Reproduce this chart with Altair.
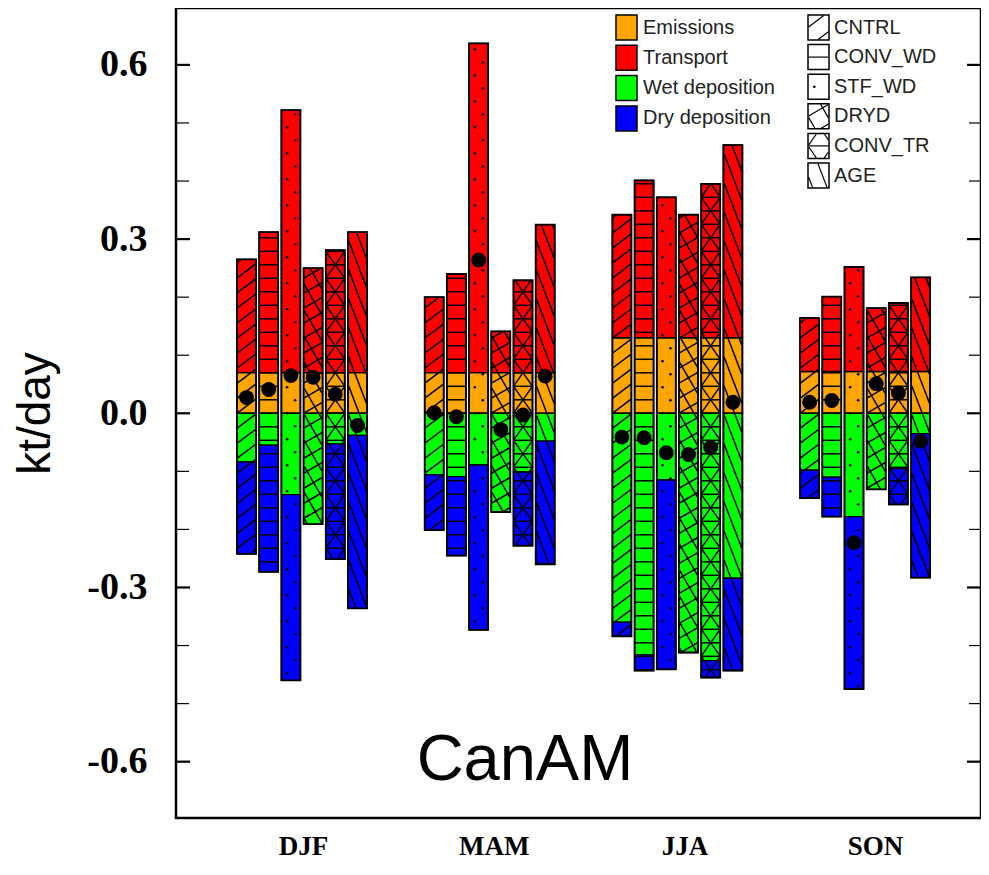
import math
import altair as alt
import pandas as pd

# ---------------- data ----------------
seasons = ["DJF", "MAM", "JJA", "SON"]
experiments = ["CNTRL", "CONV_WD", "STF_WD", "DRYD", "CONV_TR", "AGE"]
components = ["Emissions", "Transport", "Wet deposition", "Dry deposition"]
comp_colors = ["#FFA500", "#FF0000", "#00FF00", "#0000FF"]

emissions = [0.070, 0.070, 0.130, 0.072]

transport_djf = [0.195, 0.242, 0.452, 0.180, 0.211, 0.242]
transport_mam = [0.130, 0.170, 0.567, 0.071, 0.159, 0.255]
transport_jja = [0.212, 0.271, 0.242, 0.212, 0.265, 0.332]
transport_son = [0.092, 0.129, 0.180, 0.109, 0.118, 0.162]

wet_djf = [-0.084, -0.055, -0.140, -0.191, -0.053, -0.038]
wet_mam = [-0.106, -0.109, -0.089, -0.170, -0.101, -0.048]
wet_jja = [-0.360, -0.416, -0.115, -0.412, -0.426, -0.284]
wet_son = [-0.098, -0.110, -0.178, -0.131, -0.095, -0.035]

dry_djf = [-0.158, -0.218, -0.320, 0.0, -0.198, -0.298]
dry_mam = [-0.095, -0.136, -0.284, 0.0, -0.127, -0.212]
dry_jja = [-0.024, -0.027, -0.326, 0.0, -0.029, -0.159]
dry_son = [-0.048, -0.068, -0.297, 0.0, -0.062, -0.248]

net_djf = [0.027, 0.041, 0.065, 0.062, 0.033, -0.021]
net_mam = [0.001, -0.006, 0.264, -0.028, -0.003, 0.064]
net_jja = [-0.041, -0.042, -0.068, -0.071, -0.059, 0.019]
net_son = [0.019, 0.022, -0.223, 0.051, 0.035, -0.048]

y_major = [-0.6, -0.3, 0.0, 0.3, 0.6]
y_minor = [-0.5, -0.4, -0.2, -0.1, 0.1, 0.2, 0.4, 0.5]
panel_label = "CanAM"
y_title = "kt/day"

transport = [transport_djf, transport_mam, transport_jja, transport_son]
wet = [wet_djf, wet_mam, wet_jja, wet_son]
dry = [dry_djf, dry_mam, dry_jja, dry_son]
net = [net_djf, net_mam, net_jja, net_son]

# ---------------- layout ----------------
W, H = 805, 810
YMIN, YMAX = -0.697, 0.698
GROUP0, GROUP_GAP = 126.0, 187.7
PITCH, BAR_W = 22.2, 19.0
LABEL0, LABEL_GAP = 127.0, 190.7


def ypix(v):
    return (YMAX - v) / (YMAX - YMIN) * H


def yval(p):
    return YMAX - p * (YMAX - YMIN) / H


DIAG = math.degrees(math.atan(27.0 / BAR_W))
DIAG_P = 27.0 * math.cos(math.radians(DIAG))
PATTERNS = {
    "CNTRL": [(37, 12.0)],
    "CONV_WD": [(0, 13.5)],
    "STF_WD": [],
    "DRYD": [(30, 13.0), (-60, 13.0)],
    "CONV_TR": [(0, 13.5), (DIAG, DIAG_P), (-DIAG, DIAG_P)],
    "AGE": [(-69, 10.4)],
}


def clip(px, py, dx, dy, x0, x1, y0, y1):
    t0, t1 = -1e9, 1e9
    for p, q in ((-dx, px - x0), (dx, x1 - px), (-dy, py - y0), (dy, y1 - py)):
        if abs(p) < 1e-12:
            if q < 0:
                return None
        else:
            r = q / p
            if p < 0:
                t0 = max(t0, r)
            else:
                t1 = min(t1, r)
    if t1 - t0 < 1.0:
        return None
    return (px + t0 * dx, py + t0 * dy, px + t1 * dx, py + t1 * dy)


def add_pattern(exp, x0, x1, ptop, pbot, oy, lines, dots, scale=1.0, inset=0.6):
    rx0, rx1, ry0, ry1 = x0 + inset, x1 - inset, ptop + inset, pbot - inset
    for ang, sp in PATTERNS[exp]:
        sp = sp * scale
        a = math.radians(ang)
        dx, dy = math.cos(a), -math.sin(a)
        nx, ny = math.sin(a), math.cos(a)
        cs = [nx * (cx - x0) + ny * (cy - oy) for cx in (rx0, rx1) for cy in (ry0, ry1)]
        for k in range(math.ceil(min(cs) / sp), math.floor(max(cs) / sp) + 1):
            px = x0 + k * sp * nx
            py = oy + k * sp * ny
            seg = clip(px, py, dx, dy, rx0, rx1, ry0, ry1)
            if seg:
                lines.append(dict(x=seg[0], x2=seg[2], y=yval(seg[1]), y2=yval(seg[3])))
    if exp == "STF_WD":
        step = 13.0 * scale
        r0 = math.ceil((ry0 + 2 - oy) / step)
        r1 = math.floor((ry1 - 2 - oy) / step)
        for r in range(r0, r1 + 1):
            fx = 0.3 if r % 2 == 0 else 0.72
            dots.append(dict(x=x0 + fx * (x1 - x0), y=yval(oy + r * step)))


seg_rows, hatch_rows, sdot_rows, outline_rows, net_rows = [], [], [], [], []
for si, s in enumerate(seasons):
    gc = GROUP0 + si * GROUP_GAP
    E = emissions[si]
    for ei, e in enumerate(experiments):
        T, Wt, D, N = transport[si][ei], wet[si][ei], dry[si][ei], net[si][ei]
        x0 = gc + (ei - 2.5) * PITCH - BAR_W / 2
        x1 = x0 + BAR_W
        segs = [("Emissions", 0.0, E), ("Transport", E, E + T),
                ("Wet deposition", Wt, 0.0), ("Dry deposition", Wt + D, Wt)]
        for comp, lo, hi in segs:
            if hi - lo > 1e-9:
                seg_rows.append(dict(x=x0, x2=x1, y=lo, y2=hi, comp=comp))
        top, bot = E + T, Wt + D
        outline_rows.append(dict(x=x0, x2=x1, y=bot, y2=top))
        add_pattern(e, x0, x1, ypix(top), ypix(bot), ypix(0.0), hatch_rows, sdot_rows)
        net_rows.append(dict(x=(x0 + x1) / 2, y=N))

# legends
CL_X0, CL_X1, CL_TOP, CL_STEP, BOX_H = 440.0, 461.0, 7.0, 30.3, 25.0
PL_X0, PL_X1, PL_TOP, PL_STEP = 632.0, 653.0, 7.0, 29.6
cleg_rows, cleg_text, pleg_rows, pleg_text, pleg_lines, pleg_dots = [], [], [], [], [], []
for i, c in enumerate(components):
    t = CL_TOP + i * CL_STEP
    cleg_rows.append(dict(x=CL_X0, x2=CL_X1, y=yval(t + BOX_H), y2=yval(t), comp=c))
    cleg_text.append(dict(x=CL_X1 + 6, y=yval(t + BOX_H / 2), label=c))
for i, e in enumerate(experiments):
    t = PL_TOP + i * PL_STEP
    pleg_rows.append(dict(x=PL_X0, x2=PL_X1, y=yval(t + BOX_H), y2=yval(t)))
    pleg_text.append(dict(x=PL_X1 + 5, y=yval(t + BOX_H / 2), label=e))
    add_pattern(e, PL_X0, PL_X1, t, t + BOX_H, t + BOX_H / 2, pleg_lines, pleg_dots, scale=1.3)

tick_rows = []
for v in y_major:
    tick_rows.append(dict(x=0.0, x2=14.0, y=v, w=2.2))
    tick_rows.append(dict(x=W - 14.0, x2=float(W), y=v, w=2.2))
for v in y_minor:
    tick_rows.append(dict(x=0.0, x2=13.0, y=v, w=1.2))
    tick_rows.append(dict(x=W - 12.0, x2=float(W), y=v, w=1.2))

# ---------------- chart ----------------
xs = alt.Scale(domain=[0, W], nice=False, zero=False)
ys = alt.Scale(domain=[YMIN, YMAX], nice=False, zero=False)
season_js = "[" + ",".join("'%s'" % s for s in seasons) + "]"
x_axis = alt.Axis(
    values=[LABEL0 + i * LABEL_GAP for i in range(len(seasons))],
    labelExpr=f"{season_js}[round((datum.value - {LABEL0}) / {LABEL_GAP})]",
    title=None, ticks=False, domain=False, grid=False, labelFlush=False,
    labelFont="Liberation Serif", labelFontWeight="bold", labelFontSize=27,
    labelColor="black", labelPadding=15,
)
y_axis = alt.Axis(
    values=y_major,
    labelExpr="datum.value < 0 ? '-' + format(-datum.value, '.1f') : format(datum.value, '.1f')",
    title=y_title, ticks=False, tickSize=0, domain=False, grid=False,
    labelFont="Liberation Serif", labelFontWeight="bold", labelFontSize=38,
    labelColor="black", labelPadding=29,
    titleFont="Liberation Sans", titleFontSize=46, titleFontWeight="normal",
    titleColor="black", titleX=-141, titleY=H / 2, titleAngle=270,
    titleAlign="center", titleBaseline="middle",
)

X = alt.X("x:Q", scale=xs, axis=x_axis)
Y = alt.Y("y:Q", scale=ys, axis=y_axis)
color = alt.Color("comp:N", scale=alt.Scale(domain=components, range=comp_colors), legend=None)

ticks = alt.Chart(pd.DataFrame(tick_rows)).mark_rule(color="black").encode(
    x=X, x2="x2:Q", y=Y, strokeWidth=alt.StrokeWidth("w:Q", scale=None))

bars = alt.Chart(pd.DataFrame(seg_rows)).mark_rect(stroke="black", strokeWidth=1.4).encode(
    x=X, x2="x2:Q", y=Y, y2="y2:Q", fill=color)

hatch = alt.Chart(pd.DataFrame(hatch_rows)).mark_rule(color="black", strokeWidth=1.5).encode(
    x=X, x2="x2:Q", y=Y, y2="y2:Q")

sdots = alt.Chart(pd.DataFrame(sdot_rows)).mark_circle(color="black", size=7, opacity=1).encode(
    x=X, y=Y)

outlines = alt.Chart(pd.DataFrame(outline_rows)).mark_rect(
    fillOpacity=0, stroke="black", strokeWidth=1.8).encode(x=X, x2="x2:Q", y=Y, y2="y2:Q")

nets = alt.Chart(pd.DataFrame(net_rows)).mark_circle(color="black", size=220, opacity=1).encode(
    x=X, y=Y)

cleg = alt.Chart(pd.DataFrame(cleg_rows)).mark_rect(stroke="black", strokeWidth=1.5).encode(
    x=X, x2="x2:Q", y=Y, y2="y2:Q", fill=color)
cleg_t = alt.Chart(pd.DataFrame(cleg_text)).mark_text(
    align="left", baseline="middle", font="Liberation Sans", fontSize=20, color="#222").encode(
    x=X, y=Y, text="label:N")

pleg = alt.Chart(pd.DataFrame(pleg_rows)).mark_rect(
    fill="white", stroke="black", strokeWidth=1.5).encode(x=X, x2="x2:Q", y=Y, y2="y2:Q")
pleg_h = alt.Chart(pd.DataFrame(pleg_lines)).mark_rule(color="black", strokeWidth=1.2).encode(
    x=X, x2="x2:Q", y=Y, y2="y2:Q")
pleg_d = alt.Chart(pd.DataFrame(pleg_dots)).mark_circle(color="black", size=7, opacity=1).encode(
    x=X, y=Y)
pleg_t = alt.Chart(pd.DataFrame(pleg_text)).mark_text(
    align="left", baseline="middle", font="Liberation Sans", fontSize=20, color="#222").encode(
    x=X, y=Y, text="label:N")

label_df = pd.DataFrame([dict(x=349.0, y=-0.632, label=panel_label)])
panel = alt.Chart(label_df).mark_text(
    align="center", baseline="alphabetic", font="Liberation Sans", fontSize=65, color="black").encode(
    x=X, y=Y, text="label:N")

chart = alt.layer(
    ticks, bars, hatch, sdots, outlines, nets,
    cleg, cleg_t, pleg, pleg_h, pleg_d, pleg_t, panel,
).properties(
    width=W, height=H,
    autosize=alt.AutoSizeParams(type="none"),
    padding={"left": 168, "top": 0, "right": 0, "bottom": 44},
).configure(background="white").configure_view(stroke="black", strokeWidth=2.5)

chart.save("out.html", embed_options={"renderer": "svg", "actions": False})
